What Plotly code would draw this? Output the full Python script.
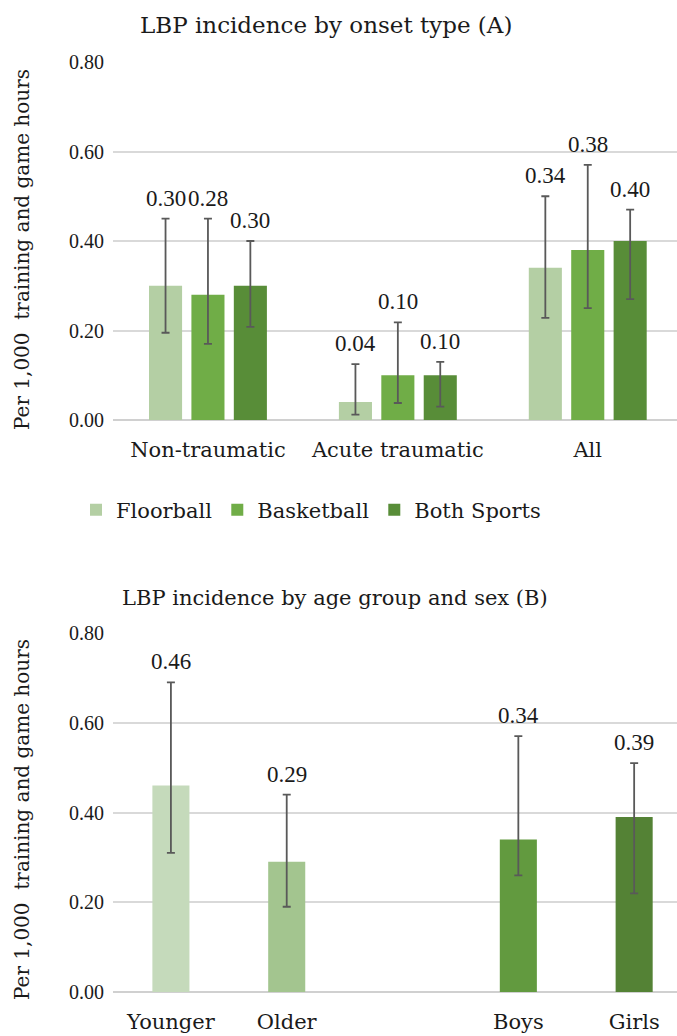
import plotly.graph_objects as go

W, H = 677, 1036

# Panel A: LBP incidence by onset type
onset_types = ["Non-traumatic", "Acute traumatic", "All"]
sports = ["Floorball", "Basketball", "Both Sports"]
rate_floorball = [0.30, 0.04, 0.34]
rate_basketball = [0.28, 0.10, 0.38]
rate_both = [0.30, 0.10, 0.40]
ci_hi_floorball = [0.45, 0.125, 0.50]
ci_lo_floorball = [0.195, 0.012, 0.228]
ci_hi_basketball = [0.45, 0.218, 0.57]
ci_lo_basketball = [0.17, 0.038, 0.25]
ci_hi_both = [0.40, 0.13, 0.47]
ci_lo_both = [0.208, 0.03, 0.27]

# Panel B: LBP incidence by age group and sex (blank slot separates the two groups)
groups = ["Younger", "Older", " ", "Boys", "Girls"]
group_names = ["Younger", "Older", "Boys", "Girls"]
rate_groups = [0.46, 0.29, 0.34, 0.39]
ci_hi_groups = [0.69, 0.44, 0.57, 0.51]
ci_lo_groups = [0.31, 0.19, 0.26, 0.22]

y_ticks = [0.0, 0.2, 0.4, 0.6, 0.8]
y_tick_text = ["0.00", "0.20", "0.40", "0.60", "0.80"]

sport_colors = ["#b4cfa4", "#70ad47", "#588d38"]
group_colors = ["#c5dabb", "#a3c58f", "#629a3f", "#548235"]
err_color = "#595959"
NUM_FONT = "Liberation Serif"
TXT_FONT = "DejaVu Serif"
INK = "#1a1a1a"

fig = go.Figure()

sport_rates = [rate_floorball, rate_basketball, rate_both]
sport_hi = [ci_hi_floorball, ci_hi_basketball, ci_hi_both]
sport_lo = [ci_lo_floorball, ci_lo_basketball, ci_lo_both]

for name, vals, hi, lo, col in zip(sports, sport_rates, sport_hi, sport_lo, sport_colors):
    fig.add_trace(go.Bar(
        x=onset_types, y=vals, name=name, marker_color=col,
        marker_line_width=0,
        error_y=dict(type="data", symmetric=False,
                     array=[h - v for h, v in zip(hi, vals)],
                     arrayminus=[v - l for v, l in zip(vals, lo)],
                     color=err_color, thickness=1.8, width=4),
        xaxis="x", yaxis="y",
    ))

fig.add_trace(go.Bar(
    x=group_names, y=rate_groups, marker_color=group_colors,
    marker_line_width=0, showlegend=False, width=0.32,
    error_y=dict(type="data", symmetric=False,
                 array=[h - v for h, v in zip(ci_hi_groups, rate_groups)],
                 arrayminus=[v - l for v, l in zip(rate_groups, ci_lo_groups)],
                 color=err_color, thickness=1.8, width=4),
    xaxis="x2", yaxis="y2",
))

# value labels above the upper error whisker
BARGAP = 0.33
n = len(sports)
band = 1 - BARGAP
for i, (vals, hi) in enumerate(zip(sport_rates, sport_hi)):
    off = (i - (n - 1) / 2) * band / n
    for j, (v, h) in enumerate(zip(vals, hi)):
        fig.add_annotation(x=j + off, y=h, xref="x", yref="y", text=f"{v:.2f}",
                           showarrow=False, yanchor="bottom", yshift=6,
                           font=dict(family=NUM_FONT, size=23, color=INK))
for g, v, h in zip(group_names, rate_groups, ci_hi_groups):
    fig.add_annotation(x=g, y=h, xref="x2", yref="y2", text=f"{v:.2f}",
                       showarrow=False, yanchor="bottom", yshift=6,
                       font=dict(family=NUM_FONT, size=23, color=INK))

x0 = 113 / W
axis_common = dict(showgrid=False, showline=False, ticks="", ticklabelstandoff=15,
                   tickfont=dict(family=TXT_FONT, size=21, color=INK))
y_common = dict(range=[0, 0.8], tickvals=y_ticks, ticktext=y_tick_text,
                showgrid=True, gridcolor="#d9d9d9", gridwidth=1.5,
                zeroline=True, zerolinecolor="#d0d0d0", zerolinewidth=1.5,
                showline=False, ticks="", ticklabelstandoff=8,
                tickfont=dict(family=NUM_FONT, size=20, color=INK))

fig.update_layout(
    width=W, height=H,
    margin=dict(l=0, r=0, t=0, b=0, autoexpand=False),
    paper_bgcolor="white", plot_bgcolor="white",
    barmode="group", bargap=BARGAP, bargroupgap=0.22,
    xaxis=dict(domain=[x0, 1], anchor="y", range=[-0.5, 2.47], **axis_common),
    yaxis=dict(domain=[1 - 420 / H, 1 - 62 / H], anchor="x", **y_common),
    xaxis2=dict(domain=[x0, 1], anchor="y2", type="category",
                categoryorder="array", categoryarray=groups,
                range=[-0.5, 4.37], **axis_common),
    yaxis2=dict(domain=[1 - 992 / H, 1 - 633 / H], anchor="x2", **y_common),
    showlegend=True,
    legend=dict(orientation="h", x=76 / W, y=1 - 510 / H, xanchor="left", yanchor="middle",
                font=dict(family=TXT_FONT, size=21, color=INK),
                bgcolor="rgba(0,0,0,0)", itemwidth=30, traceorder="normal"),
    font=dict(family=TXT_FONT),
)

fig.add_annotation(x=326 / W, y=1 - 25 / H, xref="paper", yref="paper",
                   xanchor="center", yanchor="middle",
                   text="LBP incidence by onset type (A)", showarrow=False,
                   font=dict(family=TXT_FONT, size=23, color=INK))
fig.add_annotation(x=335 / W, y=1 - 598 / H, xref="paper", yref="paper",
                   xanchor="center", yanchor="middle",
                   text="LBP incidence by age group and sex (B)", showarrow=False,
                   font=dict(family=TXT_FONT, size=21, color=INK))
for yc in (250, 820):
    fig.add_annotation(x=22 / W, y=1 - yc / H, xref="paper", yref="paper",
                       xanchor="center", yanchor="middle",
                       text="Per 1,000  training and game hours", textangle=-90,
                       showarrow=False,
                       font=dict(family=TXT_FONT, size=20, color=INK))

fig.write_html("out.html")
